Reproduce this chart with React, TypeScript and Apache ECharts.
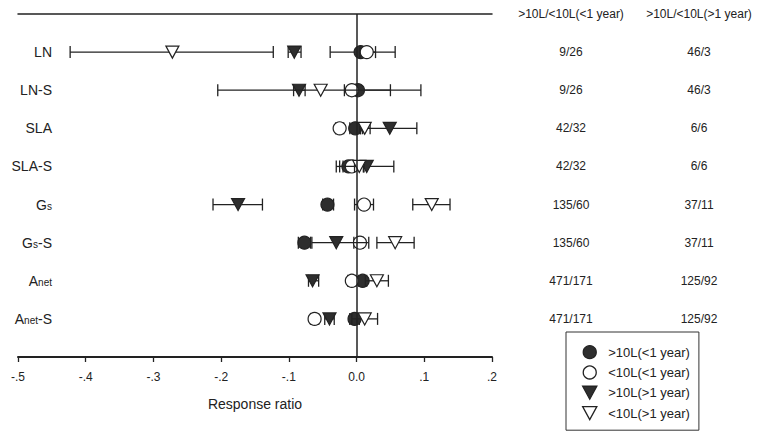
import React, { useEffect, useRef } from "react";
import * as echarts from "echarts";

// ---------- data ----------
const rowLabels = ["LN", "LN-S", "SLA", "SLA-S", "G_s", "G_s-S", "A_net", "A_net-S"];
const rowPositions = [1, 2, 3, 4, 5, 6, 7, 8];
const xTickLabels = ["-.5", "-.4", "-.3", "-.2", "-.1", "0.0", ".1", ".2"];
const headerShort = ">10L/<10L(<1 year)";
const headerLong = ">10L/<10L(>1 year)";
const countsShort = ["9/26", "9/26", "42/32", "42/32", "135/60", "135/60", "471/171", "471/171"];
const countsLong = ["46/3", "46/3", "6/6", "6/6", "37/11", "37/11", "125/92", "125/92"];
const seriesNames = [">10L(<1 year)", "<10L(<1 year)", ">10L(>1 year)", "<10L(>1 year)"];

// >10L(<1 year) – filled circle
const filledCircleMean = [0.006, 0.002, -0.002, -0.012, -0.043, -0.077, 0.009, -0.003];
const filledCircleLow = [-0.039, -0.018, -0.010, -0.020, -0.050, -0.086, 0.003, -0.010];
const filledCircleHigh = [0.057, 0.050, 0.006, -0.004, -0.034, -0.068, 0.015, 0.004];
// <10L(<1 year) – open circle
const openCircleMean = [0.015, -0.007, -0.025, -0.007, 0.011, 0.005, -0.007, -0.062];
const openCircleLow = [0.005, -0.012, -0.031, -0.030, -0.003, -0.004, -0.013, -0.068];
const openCircleHigh = [0.028, -0.002, -0.019, 0.010, 0.025, 0.010, -0.001, -0.056];
// >10L(>1 year) – filled triangle
const filledTriMean = [-0.092, -0.085, 0.049, 0.015, -0.175, -0.030, -0.065, -0.040];
const filledTriLow = [-0.101, -0.093, 0.009, -0.025, -0.212, -0.066, -0.071, -0.047];
const filledTriHigh = [-0.082, -0.076, 0.089, 0.055, -0.139, 0.018, -0.056, -0.033];
// <10L(>1 year) – open triangle
const openTriMean = [-0.272, -0.053, 0.012, 0.004, 0.111, 0.057, 0.030, 0.012];
const openTriLow = [-0.423, -0.205, 0.005, -0.003, 0.083, 0.030, 0.013, -0.007];
const openTriHigh = [-0.123, 0.095, 0.020, 0.011, 0.138, 0.085, 0.047, 0.031];

const FONT = "Liberation Sans, Arial, Helvetica, sans-serif";
const INK = "#222";
const FILL = "#2e2e2e";
const TRI_DOWN = "path://M0,0L12,0L6,11Z";

const richLabel = (label: string) => {
  const m = /^([^_]*)(?:_([a-z]+))?(.*)$/.exec(label);
  if (!m) return label;
  let out = "";
  if (m[1]) out += `{n|${m[1]}}`;
  if (m[2]) out += `{s|${m[2]}}`;
  if (m[3]) out += `{n|${m[3]}}`;
  return out;
};

const renderErrorBar = (_params: any, api: any) => {
  const y = api.value(2);
  const a = api.coord([api.value(0), y]);
  const b = api.coord([api.value(1), y]);
  const h = 6;
  const style = { stroke: INK, lineWidth: 1.3, fill: "none" };
  return {
    type: "group",
    children: [
      { type: "line", shape: { x1: a[0], y1: a[1], x2: b[0], y2: b[1] }, style },
      { type: "line", shape: { x1: a[0], y1: a[1] - h, x2: a[0], y2: a[1] + h }, style },
      { type: "line", shape: { x1: b[0], y1: b[1] - h, x2: b[0], y2: b[1] + h }, style },
    ],
  };
};

const groups = [
  { name: seriesNames[0], mean: filledCircleMean, lo: filledCircleLow, hi: filledCircleHigh, symbol: "circle", size: 13, fill: FILL },
  { name: seriesNames[1], mean: openCircleMean, lo: openCircleLow, hi: openCircleHigh, symbol: "circle", size: 13, fill: "#fff" },
  { name: seriesNames[2], mean: filledTriMean, lo: filledTriLow, hi: filledTriHigh, symbol: TRI_DOWN, size: [13, 12], fill: FILL },
  { name: seriesNames[3], mean: openTriMean, lo: openTriLow, hi: openTriHigh, symbol: TRI_DOWN, size: [13, 12], fill: "#fff" },
];

const baseY = {
  type: "value",
  min: 0,
  max: 9,
  interval: 1,
  inverse: true,
  axisLine: { show: false, onZero: false },
  axisTick: { show: false },
  splitLine: { show: false },
};

export default function App() {
  const ref = useRef<HTMLDivElement>(null);

  useEffect(() => {
    if (!ref.current) return;
    const chart = echarts.init(ref.current, undefined, { renderer: "svg" });

    const series: any[] = [];
    groups.forEach((g, i) => {
      series.push({
        type: "custom",
        name: "ci" + i,
        xAxisIndex: 0,
        yAxisIndex: 0,
        z: 1 + 2 * i,
        silent: true,
        renderItem: renderErrorBar,
        encode: { x: [0, 1], y: 2 },
        data: rowPositions.map((p, k) => [g.lo[k], g.hi[k], p]),
      });
      const s: any = {
        type: "scatter",
        name: g.name,
        xAxisIndex: 0,
        yAxisIndex: 0,
        z: 2 + 2 * i,
        symbol: g.symbol,
        symbolSize: g.size,
        itemStyle: { color: g.fill, borderColor: INK, borderWidth: 1.2, opacity: 1 },
        data: rowPositions.map((p, k) => [g.mean[k], p]),
      };
      if (i === groups.length - 1) {
        s.markLine = {
          silent: true,
          z: 30,
          symbol: ["none", "none"],
          label: { show: false },
          lineStyle: { color: INK, width: 1.5, type: "solid" },
          data: [{ xAxis: 0 }],
        };
      }
      series.push(s);
    });

    chart.setOption({
      animation: false,
      backgroundColor: "#fff",
      textStyle: { fontFamily: FONT },
      grid: { left: 18, top: 14, width: 474, height: 343, containLabel: false, outerBoundsMode: "none" },
      xAxis: [
        {
          type: "value",
          position: "bottom",
          min: -0.5,
          max: 0.2,
          interval: 0.1,
          axisLine: { show: true, onZero: false, lineStyle: { color: INK, width: 2 } },
          axisTick: { show: true, length: 5, lineStyle: { color: INK, width: 1.3 } },
          splitLine: { show: false },
          axisLabel: {
            margin: 14,
            color: INK,
            fontSize: 12,
            fontFamily: FONT,
            formatter: (v: number) => xTickLabels[Math.round((v + 0.5) * 10)] ?? "",
          },
          name: "Response ratio",
          nameLocation: "middle",
          nameGap: 40,
          nameTextStyle: { color: INK, fontSize: 14, fontFamily: FONT },
        },
        {
          type: "value",
          position: "top",
          min: -0.5,
          max: 0.2,
          axisLine: { show: true, onZero: false, lineStyle: { color: INK, width: 1.5 } },
          axisTick: { show: false },
          axisLabel: { show: false },
          splitLine: { show: false },
        },
      ],
      yAxis: [
        {
          ...baseY,
          position: "left",
          offset: -42,
          axisLabel: {
            margin: 8,
            showMinLabel: true,
            showMaxLabel: true,
            formatter: (v: number) => (v >= 1 && v <= 8 ? richLabel(rowLabels[v - 1]) : ""),
            rich: {
              n: { fontSize: 14, color: INK, fontFamily: FONT, lineHeight: 18 },
              s: { fontSize: 10, color: INK, fontFamily: FONT, lineHeight: 18, verticalAlign: "bottom", padding: [0, 0, 2, 0] },
            },
          },
        },
        {
          ...baseY,
          position: "right",
          axisLabel: {
            margin: 79,
            align: "center",
            color: INK,
            fontSize: 12,
            fontFamily: FONT,
            showMinLabel: true,
            showMaxLabel: true,
            formatter: (v: number) => (v === 0 ? headerShort : v <= 8 ? countsShort[v - 1] : ""),
          },
        },
        {
          ...baseY,
          position: "right",
          axisLabel: {
            margin: 207,
            align: "center",
            color: INK,
            fontSize: 12,
            fontFamily: FONT,
            showMinLabel: true,
            showMaxLabel: true,
            formatter: (v: number) => (v === 0 ? headerLong : v <= 8 ? countsLong[v - 1] : ""),
          },
        },
      ],
      legend: {
        data: seriesNames,
        orient: "vertical",
        left: 566,
        top: 332,
        padding: [13, 9, 10, 16],
        itemWidth: 27,
        itemHeight: 13,
        itemGap: 6,
        borderColor: "#333",
        borderWidth: 1,
        backgroundColor: "#fff",
        selectedMode: false,
        itemStyle: { borderWidth: 1.3 },
        textStyle: { fontSize: 13, color: INK, fontFamily: FONT },
      },
      series,
    });

    return () => chart.dispose();
  }, []);

  return (
    <div
      ref={ref}
      style={{ position: "absolute", left: 0, top: 0, width: 765, height: 434, background: "#fff" }}
    />
  );
}
